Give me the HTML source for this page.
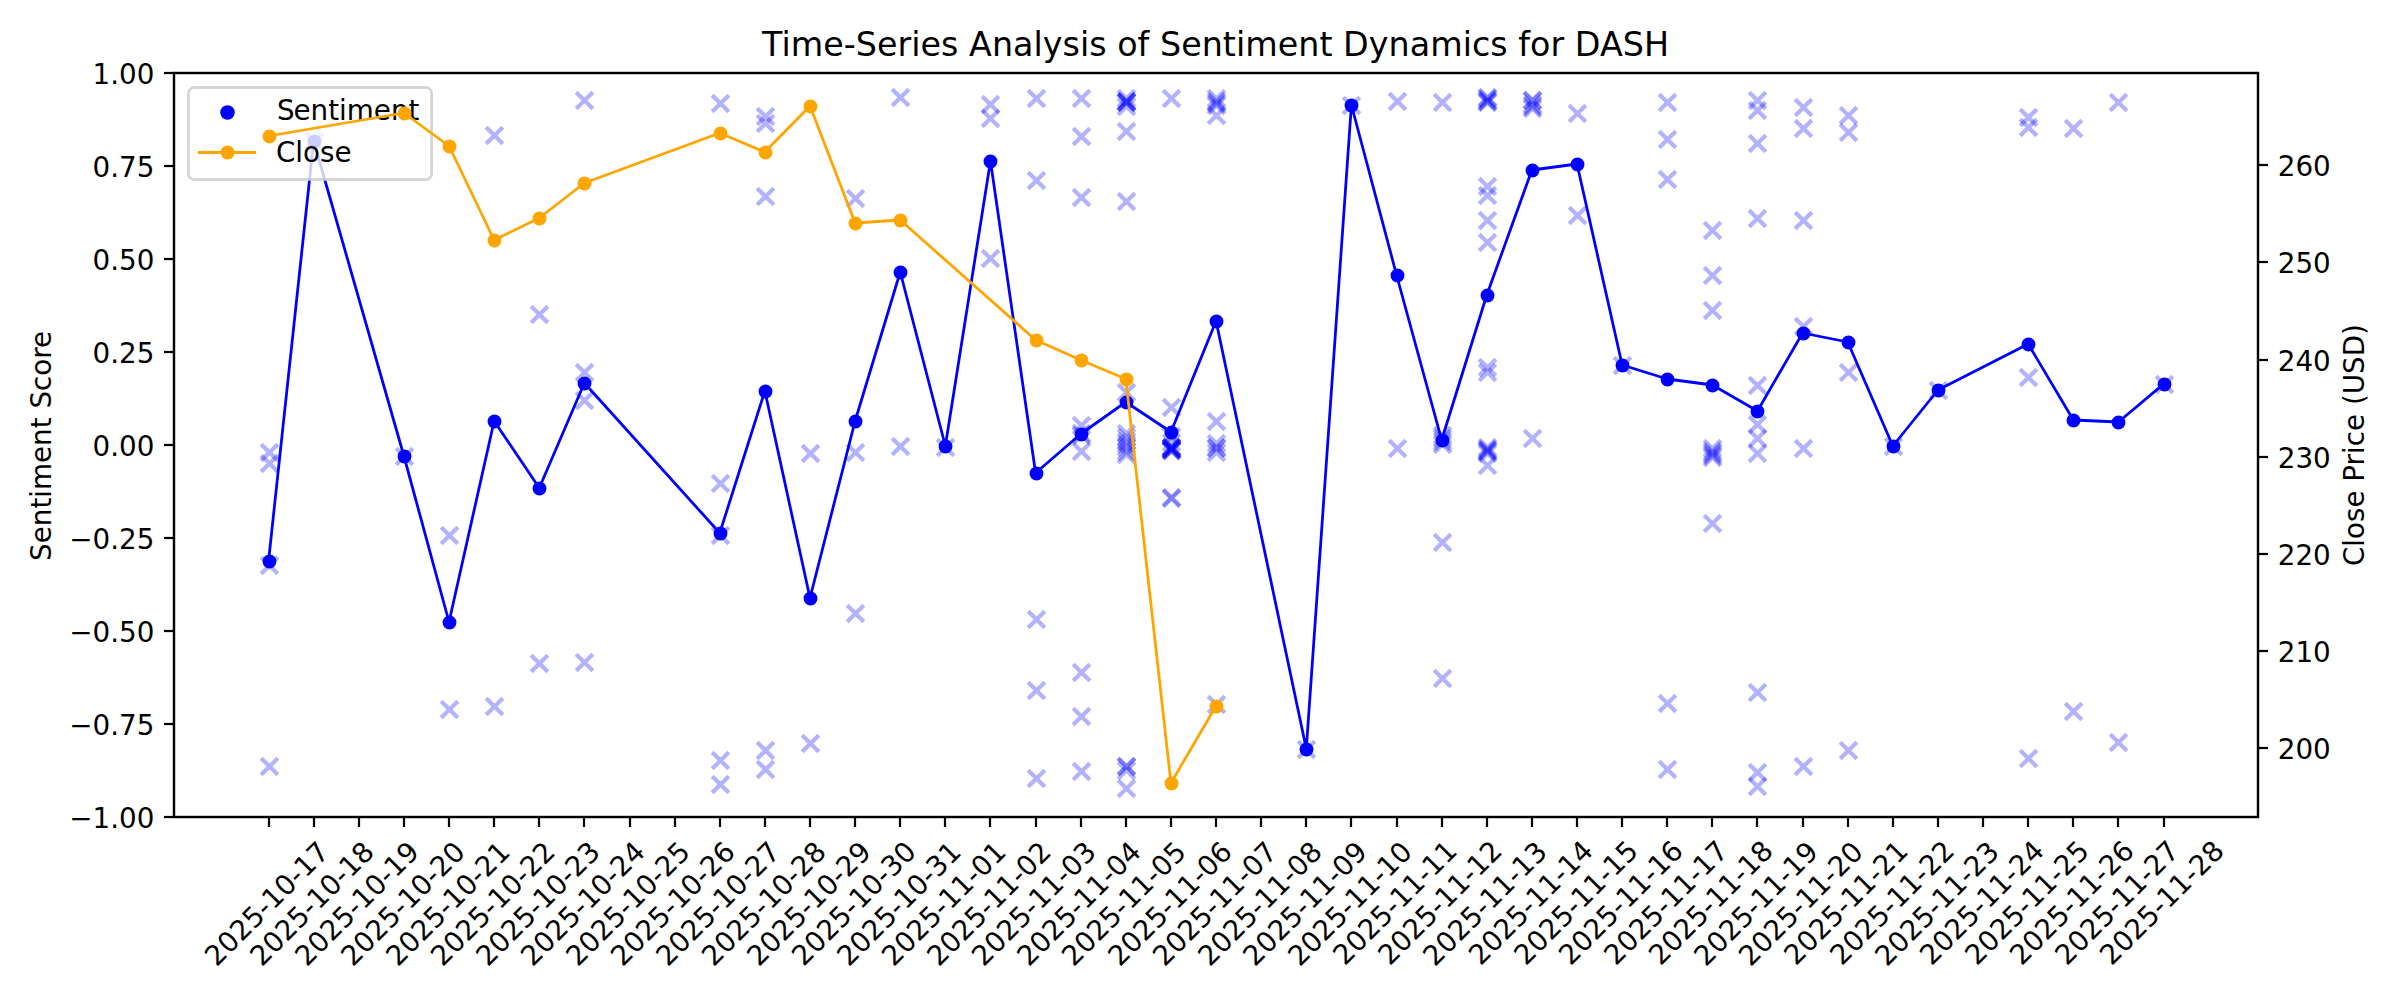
<!DOCTYPE html>
<html lang="en"><head><meta charset="utf-8"><title>Time-Series Analysis of Sentiment Dynamics for DASH</title>
<style>html,body{margin:0;padding:0;background:#fff}body{width:2400px;height:1000px;overflow:hidden}svg{display:block}text{font-family:"DejaVu Sans","Liberation Sans",sans-serif;fill:#000;font-size:27.78px}</style></head><body>
<svg width="2400" height="1000" viewBox="0 0 2400 1000">
<rect x="0" y="0" width="2400" height="1000" fill="#fff"/>
<g fill="none" stroke="#0000ff" stroke-opacity="0.3" stroke-width="4.17">
<path d="M261.17 444.17L277.83 460.83M261.17 460.83L277.83 444.17"/>
<path d="M261.17 455.17L277.83 471.83M261.17 471.83L277.83 455.17"/>
<path d="M261.17 557.17L277.83 573.83M261.17 573.83L277.83 557.17"/>
<path d="M261.17 758.17L277.83 774.83M261.17 774.83L277.83 758.17"/>
<path d="M306.17 133.17L322.83 149.83M306.17 149.83L322.83 133.17"/>
<path d="M396.17 448.17L412.83 464.83M396.17 464.83L412.83 448.17"/>
<path d="M441.17 527.17L457.83 543.83M441.17 543.83L457.83 527.17"/>
<path d="M441.17 701.17L457.83 717.83M441.17 717.83L457.83 701.17"/>
<path d="M486.17 127.17L502.83 143.83M486.17 143.83L502.83 127.17"/>
<path d="M486.17 698.17L502.83 714.83M486.17 714.83L502.83 698.17"/>
<path d="M531.17 306.17L547.83 322.83M531.17 322.83L547.83 306.17"/>
<path d="M531.17 655.17L547.83 671.83M531.17 671.83L547.83 655.17"/>
<path d="M576.17 92.17L592.83 108.83M576.17 108.83L592.83 92.17"/>
<path d="M576.17 364.17L592.83 380.83M576.17 380.83L592.83 364.17"/>
<path d="M576.17 392.17L592.83 408.83M576.17 408.83L592.83 392.17"/>
<path d="M576.17 654.17L592.83 670.83M576.17 670.83L592.83 654.17"/>
<path d="M712.17 95.17L728.83 111.83M712.17 111.83L728.83 95.17"/>
<path d="M712.17 475.17L728.83 491.83M712.17 491.83L728.83 475.17"/>
<path d="M712.17 527.17L728.83 543.83M712.17 543.83L728.83 527.17"/>
<path d="M712.17 752.17L728.83 768.83M712.17 768.83L728.83 752.17"/>
<path d="M712.17 776.17L728.83 792.83M712.17 792.83L728.83 776.17"/>
<path d="M757.17 108.17L773.83 124.83M757.17 124.83L773.83 108.17"/>
<path d="M757.17 115.17L773.83 131.83M757.17 131.83L773.83 115.17"/>
<path d="M757.17 188.17L773.83 204.83M757.17 204.83L773.83 188.17"/>
<path d="M757.17 742.17L773.83 758.83M757.17 758.83L773.83 742.17"/>
<path d="M757.17 761.17L773.83 777.83M757.17 777.83L773.83 761.17"/>
<path d="M802.17 445.17L818.83 461.83M802.17 461.83L818.83 445.17"/>
<path d="M802.17 735.17L818.83 751.83M802.17 751.83L818.83 735.17"/>
<path d="M847.17 190.17L863.83 206.83M847.17 206.83L863.83 190.17"/>
<path d="M847.17 444.17L863.83 460.83M847.17 460.83L863.83 444.17"/>
<path d="M847.17 605.17L863.83 621.83M847.17 621.83L863.83 605.17"/>
<path d="M892.17 89.17L908.83 105.83M892.17 105.83L908.83 89.17"/>
<path d="M892.17 438.17L908.83 454.83M892.17 454.83L908.83 438.17"/>
<path d="M937.17 439.17L953.83 455.83M937.17 455.83L953.83 439.17"/>
<path d="M982.17 96.17L998.83 112.83M982.17 112.83L998.83 96.17"/>
<path d="M982.17 110.17L998.83 126.83M982.17 126.83L998.83 110.17"/>
<path d="M982.17 250.17L998.83 266.83M982.17 266.83L998.83 250.17"/>
<path d="M1028.17 90.17L1044.83 106.83M1028.17 106.83L1044.83 90.17"/>
<path d="M1028.17 172.17L1044.83 188.83M1028.17 188.83L1044.83 172.17"/>
<path d="M1028.17 611.17L1044.83 627.83M1028.17 627.83L1044.83 611.17"/>
<path d="M1028.17 682.17L1044.83 698.83M1028.17 698.83L1044.83 682.17"/>
<path d="M1028.17 770.17L1044.83 786.83M1028.17 786.83L1044.83 770.17"/>
<path d="M1073.17 90.17L1089.83 106.83M1073.17 106.83L1089.83 90.17"/>
<path d="M1073.17 128.17L1089.83 144.83M1073.17 144.83L1089.83 128.17"/>
<path d="M1073.17 189.17L1089.83 205.83M1073.17 205.83L1089.83 189.17"/>
<path d="M1073.17 417.17L1089.83 433.83M1073.17 433.83L1089.83 417.17"/>
<path d="M1073.17 425.17L1089.83 441.83M1073.17 441.83L1089.83 425.17"/>
<path d="M1073.17 427.17L1089.83 443.83M1073.17 443.83L1089.83 427.17"/>
<path d="M1073.17 443.17L1089.83 459.83M1073.17 459.83L1089.83 443.17"/>
<path d="M1073.17 664.17L1089.83 680.83M1073.17 680.83L1089.83 664.17"/>
<path d="M1073.17 708.17L1089.83 724.83M1073.17 724.83L1089.83 708.17"/>
<path d="M1073.17 763.17L1089.83 779.83M1073.17 779.83L1089.83 763.17"/>
<path d="M1118.17 90.17L1134.83 106.83M1118.17 106.83L1134.83 90.17"/>
<path d="M1118.17 93.17L1134.83 109.83M1118.17 109.83L1134.83 93.17"/>
<path d="M1118.17 93.17L1134.83 109.83M1118.17 109.83L1134.83 93.17"/>
<path d="M1118.17 94.17L1134.83 110.83M1118.17 110.83L1134.83 94.17"/>
<path d="M1118.17 94.17L1134.83 110.83M1118.17 110.83L1134.83 94.17"/>
<path d="M1118.17 98.17L1134.83 114.83M1118.17 114.83L1134.83 98.17"/>
<path d="M1118.17 123.17L1134.83 139.83M1118.17 139.83L1134.83 123.17"/>
<path d="M1118.17 193.17L1134.83 209.83M1118.17 209.83L1134.83 193.17"/>
<path d="M1118.17 384.17L1134.83 400.83M1118.17 400.83L1134.83 384.17"/>
<path d="M1118.17 425.17L1134.83 441.83M1118.17 441.83L1134.83 425.17"/>
<path d="M1118.17 429.17L1134.83 445.83M1118.17 445.83L1134.83 429.17"/>
<path d="M1118.17 433.17L1134.83 449.83M1118.17 449.83L1134.83 433.17"/>
<path d="M1118.17 436.17L1134.83 452.83M1118.17 452.83L1134.83 436.17"/>
<path d="M1118.17 439.17L1134.83 455.83M1118.17 455.83L1134.83 439.17"/>
<path d="M1118.17 443.17L1134.83 459.83M1118.17 459.83L1134.83 443.17"/>
<path d="M1118.17 446.17L1134.83 462.83M1118.17 462.83L1134.83 446.17"/>
<path d="M1118.17 758.17L1134.83 774.83M1118.17 774.83L1134.83 758.17"/>
<path d="M1118.17 758.17L1134.83 774.83M1118.17 774.83L1134.83 758.17"/>
<path d="M1118.17 762.17L1134.83 778.83M1118.17 778.83L1134.83 762.17"/>
<path d="M1118.17 780.17L1134.83 796.83M1118.17 796.83L1134.83 780.17"/>
<path d="M1163.17 90.17L1179.83 106.83M1163.17 106.83L1179.83 90.17"/>
<path d="M1163.17 399.17L1179.83 415.83M1163.17 415.83L1179.83 399.17"/>
<path d="M1163.17 428.17L1179.83 444.83M1163.17 444.83L1179.83 428.17"/>
<path d="M1163.17 434.17L1179.83 450.83M1163.17 450.83L1179.83 434.17"/>
<path d="M1163.17 439.17L1179.83 455.83M1163.17 455.83L1179.83 439.17"/>
<path d="M1163.17 439.17L1179.83 455.83M1163.17 455.83L1179.83 439.17"/>
<path d="M1163.17 439.17L1179.83 455.83M1163.17 455.83L1179.83 439.17"/>
<path d="M1163.17 440.17L1179.83 456.83M1163.17 456.83L1179.83 440.17"/>
<path d="M1163.17 440.17L1179.83 456.83M1163.17 456.83L1179.83 440.17"/>
<path d="M1163.17 441.17L1179.83 457.83M1163.17 457.83L1179.83 441.17"/>
<path d="M1163.17 442.17L1179.83 458.83M1163.17 458.83L1179.83 442.17"/>
<path d="M1163.17 442.17L1179.83 458.83M1163.17 458.83L1179.83 442.17"/>
<path d="M1163.17 442.17L1179.83 458.83M1163.17 458.83L1179.83 442.17"/>
<path d="M1163.17 489.17L1179.83 505.83M1163.17 505.83L1179.83 489.17"/>
<path d="M1163.17 490.17L1179.83 506.83M1163.17 506.83L1179.83 490.17"/>
<path d="M1208.17 90.17L1224.83 106.83M1208.17 106.83L1224.83 90.17"/>
<path d="M1208.17 93.17L1224.83 109.83M1208.17 109.83L1224.83 93.17"/>
<path d="M1208.17 95.17L1224.83 111.83M1208.17 111.83L1224.83 95.17"/>
<path d="M1208.17 97.17L1224.83 113.83M1208.17 113.83L1224.83 97.17"/>
<path d="M1208.17 107.17L1224.83 123.83M1208.17 123.83L1224.83 107.17"/>
<path d="M1208.17 413.17L1224.83 429.83M1208.17 429.83L1224.83 413.17"/>
<path d="M1208.17 435.17L1224.83 451.83M1208.17 451.83L1224.83 435.17"/>
<path d="M1208.17 439.17L1224.83 455.83M1208.17 455.83L1224.83 439.17"/>
<path d="M1208.17 440.17L1224.83 456.83M1208.17 456.83L1224.83 440.17"/>
<path d="M1208.17 444.17L1224.83 460.83M1208.17 460.83L1224.83 444.17"/>
<path d="M1208.17 696.17L1224.83 712.83M1208.17 712.83L1224.83 696.17"/>
<path d="M1298.17 741.17L1314.83 757.83M1298.17 757.83L1314.83 741.17"/>
<path d="M1343.17 97.17L1359.83 113.83M1343.17 113.83L1359.83 97.17"/>
<path d="M1389.17 93.17L1405.83 109.83M1389.17 109.83L1405.83 93.17"/>
<path d="M1389.17 440.17L1405.83 456.83M1389.17 456.83L1405.83 440.17"/>
<path d="M1434.17 94.17L1450.83 110.83M1434.17 110.83L1450.83 94.17"/>
<path d="M1434.17 427.17L1450.83 443.83M1434.17 443.83L1450.83 427.17"/>
<path d="M1434.17 430.17L1450.83 446.83M1434.17 446.83L1450.83 430.17"/>
<path d="M1434.17 433.17L1450.83 449.83M1434.17 449.83L1450.83 433.17"/>
<path d="M1434.17 436.17L1450.83 452.83M1434.17 452.83L1450.83 436.17"/>
<path d="M1434.17 534.17L1450.83 550.83M1434.17 550.83L1450.83 534.17"/>
<path d="M1434.17 670.17L1450.83 686.83M1434.17 686.83L1450.83 670.17"/>
<path d="M1479.17 89.17L1495.83 105.83M1479.17 105.83L1495.83 89.17"/>
<path d="M1479.17 90.17L1495.83 106.83M1479.17 106.83L1495.83 90.17"/>
<path d="M1479.17 92.17L1495.83 108.83M1479.17 108.83L1495.83 92.17"/>
<path d="M1479.17 93.17L1495.83 109.83M1479.17 109.83L1495.83 93.17"/>
<path d="M1479.17 94.17L1495.83 110.83M1479.17 110.83L1495.83 94.17"/>
<path d="M1479.17 178.17L1495.83 194.83M1479.17 194.83L1495.83 178.17"/>
<path d="M1479.17 187.17L1495.83 203.83M1479.17 203.83L1495.83 187.17"/>
<path d="M1479.17 212.17L1495.83 228.83M1479.17 228.83L1495.83 212.17"/>
<path d="M1479.17 234.17L1495.83 250.83M1479.17 250.83L1495.83 234.17"/>
<path d="M1479.17 359.17L1495.83 375.83M1479.17 375.83L1495.83 359.17"/>
<path d="M1479.17 364.17L1495.83 380.83M1479.17 380.83L1495.83 364.17"/>
<path d="M1479.17 439.17L1495.83 455.83M1479.17 455.83L1495.83 439.17"/>
<path d="M1479.17 441.17L1495.83 457.83M1479.17 457.83L1495.83 441.17"/>
<path d="M1479.17 442.17L1495.83 458.83M1479.17 458.83L1495.83 442.17"/>
<path d="M1479.17 443.17L1495.83 459.83M1479.17 459.83L1495.83 443.17"/>
<path d="M1479.17 445.17L1495.83 461.83M1479.17 461.83L1495.83 445.17"/>
<path d="M1479.17 457.17L1495.83 473.83M1479.17 473.83L1495.83 457.17"/>
<path d="M1524.17 92.17L1540.83 108.83M1524.17 108.83L1540.83 92.17"/>
<path d="M1524.17 92.17L1540.83 108.83M1524.17 108.83L1540.83 92.17"/>
<path d="M1524.17 96.17L1540.83 112.83M1524.17 112.83L1540.83 96.17"/>
<path d="M1524.17 98.17L1540.83 114.83M1524.17 114.83L1540.83 98.17"/>
<path d="M1524.17 100.17L1540.83 116.83M1524.17 116.83L1540.83 100.17"/>
<path d="M1524.17 430.17L1540.83 446.83M1524.17 446.83L1540.83 430.17"/>
<path d="M1569.17 105.17L1585.83 121.83M1569.17 121.83L1585.83 105.17"/>
<path d="M1569.17 207.17L1585.83 223.83M1569.17 223.83L1585.83 207.17"/>
<path d="M1614.17 357.17L1630.83 373.83M1614.17 373.83L1630.83 357.17"/>
<path d="M1659.17 94.17L1675.83 110.83M1659.17 110.83L1675.83 94.17"/>
<path d="M1659.17 131.17L1675.83 147.83M1659.17 147.83L1675.83 131.17"/>
<path d="M1659.17 171.17L1675.83 187.83M1659.17 187.83L1675.83 171.17"/>
<path d="M1659.17 695.17L1675.83 711.83M1659.17 711.83L1675.83 695.17"/>
<path d="M1659.17 761.17L1675.83 777.83M1659.17 777.83L1675.83 761.17"/>
<path d="M1704.17 222.17L1720.83 238.83M1704.17 238.83L1720.83 222.17"/>
<path d="M1704.17 267.17L1720.83 283.83M1704.17 283.83L1720.83 267.17"/>
<path d="M1704.17 302.17L1720.83 318.83M1704.17 318.83L1720.83 302.17"/>
<path d="M1704.17 440.17L1720.83 456.83M1704.17 456.83L1720.83 440.17"/>
<path d="M1704.17 443.17L1720.83 459.83M1704.17 459.83L1720.83 443.17"/>
<path d="M1704.17 445.17L1720.83 461.83M1704.17 461.83L1720.83 445.17"/>
<path d="M1704.17 447.17L1720.83 463.83M1704.17 463.83L1720.83 447.17"/>
<path d="M1704.17 449.17L1720.83 465.83M1704.17 465.83L1720.83 449.17"/>
<path d="M1704.17 515.17L1720.83 531.83M1704.17 531.83L1720.83 515.17"/>
<path d="M1749.17 92.17L1765.83 108.83M1749.17 108.83L1765.83 92.17"/>
<path d="M1749.17 102.17L1765.83 118.83M1749.17 118.83L1765.83 102.17"/>
<path d="M1749.17 135.17L1765.83 151.83M1749.17 151.83L1765.83 135.17"/>
<path d="M1749.17 210.17L1765.83 226.83M1749.17 226.83L1765.83 210.17"/>
<path d="M1749.17 377.17L1765.83 393.83M1749.17 393.83L1765.83 377.17"/>
<path d="M1749.17 416.17L1765.83 432.83M1749.17 432.83L1765.83 416.17"/>
<path d="M1749.17 430.17L1765.83 446.83M1749.17 446.83L1765.83 430.17"/>
<path d="M1749.17 445.17L1765.83 461.83M1749.17 461.83L1765.83 445.17"/>
<path d="M1749.17 684.17L1765.83 700.83M1749.17 700.83L1765.83 684.17"/>
<path d="M1749.17 764.17L1765.83 780.83M1749.17 780.83L1765.83 764.17"/>
<path d="M1749.17 778.17L1765.83 794.83M1749.17 794.83L1765.83 778.17"/>
<path d="M1795.17 99.17L1811.83 115.83M1795.17 115.83L1811.83 99.17"/>
<path d="M1795.17 120.17L1811.83 136.83M1795.17 136.83L1811.83 120.17"/>
<path d="M1795.17 212.17L1811.83 228.83M1795.17 228.83L1811.83 212.17"/>
<path d="M1795.17 318.17L1811.83 334.83M1795.17 334.83L1811.83 318.17"/>
<path d="M1795.17 440.17L1811.83 456.83M1795.17 456.83L1811.83 440.17"/>
<path d="M1795.17 758.17L1811.83 774.83M1795.17 774.83L1811.83 758.17"/>
<path d="M1840.17 107.17L1856.83 123.83M1840.17 123.83L1856.83 107.17"/>
<path d="M1840.17 124.17L1856.83 140.83M1840.17 140.83L1856.83 124.17"/>
<path d="M1840.17 364.17L1856.83 380.83M1840.17 380.83L1856.83 364.17"/>
<path d="M1840.17 742.17L1856.83 758.83M1840.17 758.83L1856.83 742.17"/>
<path d="M1885.17 438.17L1901.83 454.83M1885.17 454.83L1901.83 438.17"/>
<path d="M1930.17 382.17L1946.83 398.83M1930.17 398.83L1946.83 382.17"/>
<path d="M2020.17 109.17L2036.83 125.83M2020.17 125.83L2036.83 109.17"/>
<path d="M2020.17 119.17L2036.83 135.83M2020.17 135.83L2036.83 119.17"/>
<path d="M2020.17 369.17L2036.83 385.83M2020.17 385.83L2036.83 369.17"/>
<path d="M2020.17 750.17L2036.83 766.83M2020.17 766.83L2036.83 750.17"/>
<path d="M2065.17 120.17L2081.83 136.83M2065.17 136.83L2081.83 120.17"/>
<path d="M2065.17 703.17L2081.83 719.83M2065.17 719.83L2081.83 703.17"/>
<path d="M2110.17 94.17L2126.83 110.83M2110.17 110.83L2126.83 94.17"/>
<path d="M2110.17 734.17L2126.83 750.83M2110.17 750.83L2126.83 734.17"/>
<path d="M2156.17 376.17L2172.83 392.83M2156.17 392.83L2172.83 376.17"/>
</g>
<polyline fill="none" stroke="#0000ff" stroke-width="2.78" stroke-linejoin="round" stroke-linecap="square" points="268.56,561 313.68,141 403.91,456 449.03,622 494.15,421 539.27,488 584.39,383 719.75,533 764.87,391 809.99,598 855.11,421 900.23,272 945.35,446 990.47,161 1035.59,473 1080.7,434 1125.82,402 1170.94,432 1216.06,321 1306.3,749 1351.42,105 1396.54,275 1441.66,440 1486.78,295 1531.9,170 1577.02,164 1622.14,365 1667.26,379 1712.38,385 1757.49,411 1802.61,333 1847.73,342 1892.85,446 1937.97,390 2028.21,344 2073.33,420 2118.45,422 2163.57,384"/>
<g fill="#0000ff" stroke="#0000ff" stroke-width="2.78">
<circle cx="269.5" cy="561.5" r="5.56"/>
<circle cx="314.5" cy="141.5" r="5.56"/>
<circle cx="404.5" cy="456.5" r="5.56"/>
<circle cx="449.5" cy="622.5" r="5.56"/>
<circle cx="494.5" cy="421.5" r="5.56"/>
<circle cx="539.5" cy="488.5" r="5.56"/>
<circle cx="584.5" cy="383.5" r="5.56"/>
<circle cx="720.5" cy="533.5" r="5.56"/>
<circle cx="765.5" cy="391.5" r="5.56"/>
<circle cx="810.5" cy="598.5" r="5.56"/>
<circle cx="855.5" cy="421.5" r="5.56"/>
<circle cx="900.5" cy="272.5" r="5.56"/>
<circle cx="945.5" cy="446.5" r="5.56"/>
<circle cx="990.5" cy="161.5" r="5.56"/>
<circle cx="1036.5" cy="473.5" r="5.56"/>
<circle cx="1081.5" cy="434.5" r="5.56"/>
<circle cx="1126.5" cy="402.5" r="5.56"/>
<circle cx="1171.5" cy="432.5" r="5.56"/>
<circle cx="1216.5" cy="321.5" r="5.56"/>
<circle cx="1306.5" cy="749.5" r="5.56"/>
<circle cx="1351.5" cy="105.5" r="5.56"/>
<circle cx="1397.5" cy="275.5" r="5.56"/>
<circle cx="1442.5" cy="440.5" r="5.56"/>
<circle cx="1487.5" cy="295.5" r="5.56"/>
<circle cx="1532.5" cy="170.5" r="5.56"/>
<circle cx="1577.5" cy="164.5" r="5.56"/>
<circle cx="1622.5" cy="365.5" r="5.56"/>
<circle cx="1667.5" cy="379.5" r="5.56"/>
<circle cx="1712.5" cy="385.5" r="5.56"/>
<circle cx="1757.5" cy="411.5" r="5.56"/>
<circle cx="1803.5" cy="333.5" r="5.56"/>
<circle cx="1848.5" cy="342.5" r="5.56"/>
<circle cx="1893.5" cy="446.5" r="5.56"/>
<circle cx="1938.5" cy="390.5" r="5.56"/>
<circle cx="2028.5" cy="344.5" r="5.56"/>
<circle cx="2073.5" cy="420.5" r="5.56"/>
<circle cx="2118.5" cy="422.5" r="5.56"/>
<circle cx="2164.5" cy="384.5" r="5.56"/>
</g>
<g stroke="#000" stroke-width="2.22" fill="none">
<path d="M174 817H164"/>
<path d="M174 724H164"/>
<path d="M174 631H164"/>
<path d="M174 538H164"/>
<path d="M174 445H164"/>
<path d="M174 352H164"/>
<path d="M174 259H164"/>
<path d="M174 166H164"/>
<path d="M174 73H164"/>
<path d="M269 817V827"/>
<path d="M314 817V827"/>
<path d="M359 817V827"/>
<path d="M404 817V827"/>
<path d="M449 817V827"/>
<path d="M494 817V827"/>
<path d="M539 817V827"/>
<path d="M584 817V827"/>
<path d="M630 817V827"/>
<path d="M675 817V827"/>
<path d="M720 817V827"/>
<path d="M765 817V827"/>
<path d="M810 817V827"/>
<path d="M855 817V827"/>
<path d="M900 817V827"/>
<path d="M945 817V827"/>
<path d="M990 817V827"/>
<path d="M1036 817V827"/>
<path d="M1081 817V827"/>
<path d="M1126 817V827"/>
<path d="M1171 817V827"/>
<path d="M1216 817V827"/>
<path d="M1261 817V827"/>
<path d="M1306 817V827"/>
<path d="M1351 817V827"/>
<path d="M1397 817V827"/>
<path d="M1442 817V827"/>
<path d="M1487 817V827"/>
<path d="M1532 817V827"/>
<path d="M1577 817V827"/>
<path d="M1622 817V827"/>
<path d="M1667 817V827"/>
<path d="M1712 817V827"/>
<path d="M1757 817V827"/>
<path d="M1803 817V827"/>
<path d="M1848 817V827"/>
<path d="M1893 817V827"/>
<path d="M1938 817V827"/>
<path d="M1983 817V827"/>
<path d="M2028 817V827"/>
<path d="M2073 817V827"/>
<path d="M2118 817V827"/>
<path d="M2164 817V827"/>
</g>
<rect x="174" y="73" width="2084" height="744" fill="none" stroke="#000" stroke-width="2.22"/>
<text x="154.36" y="827.66" text-anchor="end">−1.00</text>
<text x="154.36" y="734.67" text-anchor="end">−0.75</text>
<text x="154.36" y="641.69" text-anchor="end">−0.50</text>
<text x="154.36" y="548.7" text-anchor="end">−0.25</text>
<text x="154.36" y="455.71" text-anchor="end">0.00</text>
<text x="154.36" y="362.73" text-anchor="end">0.25</text>
<text x="154.36" y="269.74" text-anchor="end">0.50</text>
<text x="154.36" y="176.75" text-anchor="end">0.75</text>
<text x="154.36" y="83.77" text-anchor="end">1.00</text>
<text transform="translate(268.31 905.25) rotate(-45)" text-anchor="middle" y="7.45">2025-10-17</text>
<text transform="translate(313.43 905.25) rotate(-45)" text-anchor="middle" y="7.45">2025-10-18</text>
<text transform="translate(358.54 905.25) rotate(-45)" text-anchor="middle" y="7.45">2025-10-19</text>
<text transform="translate(404.41 905.25) rotate(-45)" text-anchor="middle" y="7.45">2025-10-20</text>
<text transform="translate(449.53 905.25) rotate(-45)" text-anchor="middle" y="7.45">2025-10-21</text>
<text transform="translate(494.4 905.25) rotate(-45)" text-anchor="middle" y="7.45">2025-10-22</text>
<text transform="translate(539.52 905.25) rotate(-45)" text-anchor="middle" y="7.45">2025-10-23</text>
<text transform="translate(584.39 905.25) rotate(-45)" text-anchor="middle" y="7.45">2025-10-24</text>
<text transform="translate(629.51 905.25) rotate(-45)" text-anchor="middle" y="7.45">2025-10-25</text>
<text transform="translate(674.38 905.25) rotate(-45)" text-anchor="middle" y="7.45">2025-10-26</text>
<text transform="translate(719.5 905.25) rotate(-45)" text-anchor="middle" y="7.45">2025-10-27</text>
<text transform="translate(765.37 905.25) rotate(-45)" text-anchor="middle" y="7.45">2025-10-28</text>
<text transform="translate(810.49 905.25) rotate(-45)" text-anchor="middle" y="7.45">2025-10-29</text>
<text transform="translate(855.36 905) rotate(-45)" text-anchor="middle" y="7.45">2025-10-30</text>
<text transform="translate(900.48 905.25) rotate(-45)" text-anchor="middle" y="7.45">2025-10-31</text>
<text transform="translate(945.35 905.25) rotate(-45)" text-anchor="middle" y="7.45">2025-11-01</text>
<text transform="translate(990.47 905.25) rotate(-45)" text-anchor="middle" y="7.45">2025-11-02</text>
<text transform="translate(1035.34 905.25) rotate(-45)" text-anchor="middle" y="7.45">2025-11-03</text>
<text transform="translate(1080.45 905.25) rotate(-45)" text-anchor="middle" y="7.45">2025-11-04</text>
<text transform="translate(1125.32 905.25) rotate(-45)" text-anchor="middle" y="7.45">2025-11-05</text>
<text transform="translate(1171.44 905.25) rotate(-45)" text-anchor="middle" y="7.45">2025-11-06</text>
<text transform="translate(1216.31 905.25) rotate(-45)" text-anchor="middle" y="7.45">2025-11-07</text>
<text transform="translate(1261.43 905.25) rotate(-45)" text-anchor="middle" y="7.45">2025-11-08</text>
<text transform="translate(1306.55 905.25) rotate(-45)" text-anchor="middle" y="7.45">2025-11-09</text>
<text transform="translate(1351.42 905.25) rotate(-45)" text-anchor="middle" y="7.45">2025-11-10</text>
<text transform="translate(1396.54 904.25) rotate(-45)" text-anchor="middle" y="7.45">2025-11-11</text>
<text transform="translate(1441.41 904.25) rotate(-45)" text-anchor="middle" y="7.45">2025-11-12</text>
<text transform="translate(1486.53 905.25) rotate(-45)" text-anchor="middle" y="7.45">2025-11-13</text>
<text transform="translate(1532.4 904.25) rotate(-45)" text-anchor="middle" y="7.45">2025-11-14</text>
<text transform="translate(1577.52 904.25) rotate(-45)" text-anchor="middle" y="7.45">2025-11-15</text>
<text transform="translate(1622.39 904.25) rotate(-45)" text-anchor="middle" y="7.45">2025-11-16</text>
<text transform="translate(1667.51 904.25) rotate(-45)" text-anchor="middle" y="7.45">2025-11-17</text>
<text transform="translate(1712.38 904.25) rotate(-45)" text-anchor="middle" y="7.45">2025-11-18</text>
<text transform="translate(1757.49 905.25) rotate(-45)" text-anchor="middle" y="7.45">2025-11-19</text>
<text transform="translate(1802.36 905.25) rotate(-45)" text-anchor="middle" y="7.45">2025-11-20</text>
<text transform="translate(1847.48 904.25) rotate(-45)" text-anchor="middle" y="7.45">2025-11-21</text>
<text transform="translate(1893.6 904.25) rotate(-45)" text-anchor="middle" y="7.45">2025-11-22</text>
<text transform="translate(1938.47 905.25) rotate(-45)" text-anchor="middle" y="7.45">2025-11-23</text>
<text transform="translate(1983.34 904.25) rotate(-45)" text-anchor="middle" y="7.45">2025-11-24</text>
<text transform="translate(2028.46 904.25) rotate(-45)" text-anchor="middle" y="7.45">2025-11-25</text>
<text transform="translate(2073.33 904.25) rotate(-45)" text-anchor="middle" y="7.45">2025-11-26</text>
<text transform="translate(2118.45 904.25) rotate(-45)" text-anchor="middle" y="7.45">2025-11-27</text>
<text transform="translate(2163.32 904.25) rotate(-45)" text-anchor="middle" y="7.45">2025-11-28</text>
<text transform="translate(43 445.85) rotate(-90)" text-anchor="middle" y="7.7">Sentiment Score</text>
<text x="1215.56" y="55.6" text-anchor="middle" style="font-size:33.33px;letter-spacing:0.025px">Time-Series Analysis of Sentiment Dynamics for DASH</text>
<rect x="188.5" y="87.5" width="243.1" height="92" rx="5.56" ry="5.56" fill="#fff" fill-opacity="0.8" stroke="#ccc" stroke-opacity="0.8" stroke-width="2.78"/>
<circle cx="227.5" cy="112.5" r="5.9" fill="#0000ff" stroke="#0000ff" stroke-width="2.78"/>
<path d="M199.22 152.5H254.78" stroke="#ffa500" stroke-width="2.78" stroke-linecap="square" fill="none"/>
<circle cx="227.5" cy="152.5" r="5.56" fill="#ffa500" stroke="#ffa500" stroke-width="2.78"/>
<text x="275.88" y="120.1" dx="1 -1">Sentiment</text>
<text x="275.88" y="162.1">Close</text>
<polyline fill="none" stroke="#ffa500" stroke-width="2.78" stroke-linejoin="round" stroke-linecap="square" points="268.56,136 403.91,113 449.03,146 494.15,240 539.27,218 584.39,183 719.75,133 764.87,152 809.99,106 855.11,223 900.23,220 1035.59,340 1080.7,360 1125.82,379 1170.94,783 1216.06,706"/>
<g fill="#ffa500" stroke="#ffa500" stroke-width="2.78">
<circle cx="269.5" cy="136.5" r="5.56"/>
<circle cx="404.5" cy="113.5" r="5.56"/>
<circle cx="449.5" cy="146.5" r="5.56"/>
<circle cx="494.5" cy="240.5" r="5.56"/>
<circle cx="539.5" cy="218.5" r="5.56"/>
<circle cx="584.5" cy="183.5" r="5.56"/>
<circle cx="720.5" cy="133.5" r="5.56"/>
<circle cx="765.5" cy="152.5" r="5.56"/>
<circle cx="810.5" cy="106.5" r="5.56"/>
<circle cx="855.5" cy="223.5" r="5.56"/>
<circle cx="900.5" cy="220.5" r="5.56"/>
<circle cx="1036.5" cy="340.5" r="5.56"/>
<circle cx="1081.5" cy="360.5" r="5.56"/>
<circle cx="1126.5" cy="379.5" r="5.56"/>
<circle cx="1171.5" cy="783.5" r="5.56"/>
<circle cx="1216.5" cy="706.5" r="5.56"/>
</g>
<g stroke="#000" stroke-width="2.22" fill="none">
<path d="M2258 748H2268"/>
<path d="M2258 651H2268"/>
<path d="M2258 554H2268"/>
<path d="M2258 457H2268"/>
<path d="M2258 360H2268"/>
<path d="M2258 262H2268"/>
<path d="M2258 165H2268"/>
</g>
<rect x="174" y="73" width="2084" height="744" fill="none" stroke="#000" stroke-width="2.22"/>
<text x="2277.76" y="759.2">200</text>
<text x="2277.76" y="662.03">210</text>
<text x="2277.76" y="564.86">220</text>
<text x="2277.76" y="467.69">230</text>
<text x="2277.76" y="370.52">240</text>
<text x="2277.76" y="273.35">250</text>
<text x="2277.76" y="176.18">260</text>
<text transform="translate(2356 445.1) rotate(-90)" text-anchor="middle" y="7.7">Close Price (USD)</text>
</svg></body></html>
